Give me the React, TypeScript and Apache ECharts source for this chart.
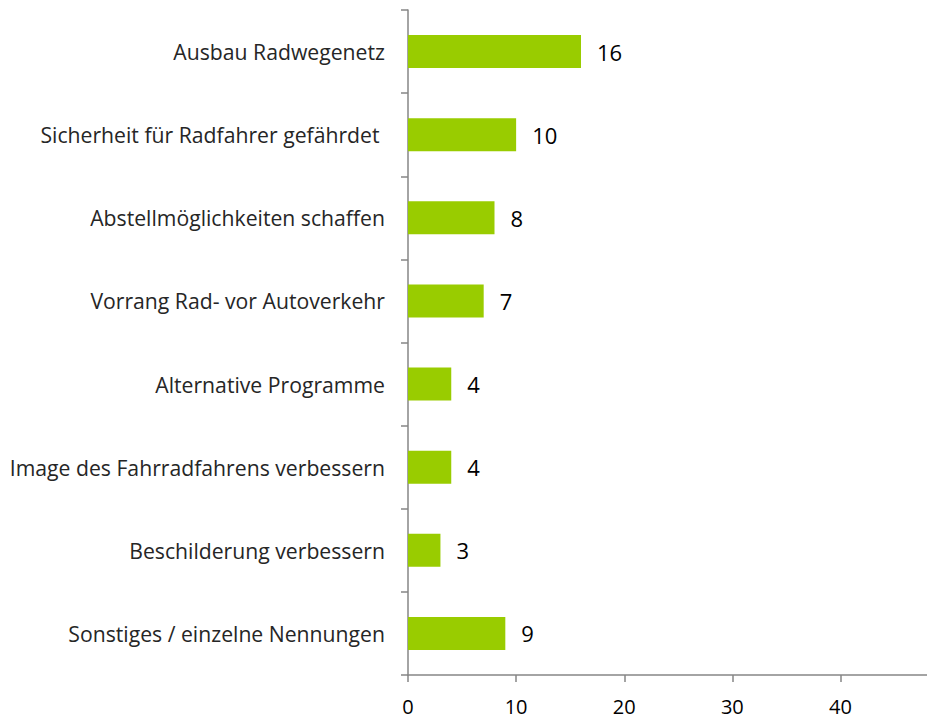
import React, { useEffect, useRef } from "react";
import * as echarts from "echarts";

const categories = [
  "Ausbau Radwegenetz",
  "Sicherheit für Radfahrer gefährdet ",
  "Abstellmöglichkeiten schaffen",
  "Vorrang Rad- vor Autoverkehr",
  "Alternative Programme",
  "Image des Fahrradfahrens verbessern",
  "Beschilderung verbessern",
  "Sonstiges / einzelne Nennungen",
];
const values = [16, 10, 8, 7, 4, 4, 3, 9];
const xMin = 0;
const xMax = 48;
const xInterval = 10;

export default function App() {
  const ref = useRef<HTMLDivElement>(null);
  useEffect(() => {
    document.body.style.margin = "0";
    const chart = echarts.init(ref.current!, null, { renderer: "svg" });
    chart.setOption({
      animation: false,
      backgroundColor: "#ffffff",
      grid: { left: 408, right: -1, top: 10, bottom: 47, containLabel: false },
      xAxis: {
        type: "value",
        min: xMin,
        max: xMax,
        interval: xInterval,
        splitLine: { show: false },
        axisLine: { show: true, lineStyle: { color: "#868686", width: 1.5 } },
        axisTick: { show: true, length: 7, lineStyle: { color: "#868686", width: 1.5 } },
        axisLabel: {
          showMaxLabel: false,
          color: "#000000",
          fontFamily: "Open Sans",
          fontSize: 20,
          lineHeight: 20,
          margin: 21,
        },
      },
      yAxis: {
        type: "category",
        data: categories,
        inverse: true,
        axisLine: { show: true, lineStyle: { color: "#868686", width: 1.5 } },
        axisTick: { show: true, length: 7, lineStyle: { color: "#868686", width: 1.5 } },
        axisLabel: {
          color: "#262626",
          fontFamily: "Open Sans",
          fontSize: 21.2,
          margin: 23,
        },
      },
      series: [
        {
          type: "bar",
          data: values,
          barWidth: 33,
          itemStyle: { color: "#99CC00" },
          label: {
            show: true,
            position: "right",
            distance: 16,
            color: "#000000",
            fontFamily: "Open Sans",
            fontSize: 22,
          },
        },
      ],
    });
    return () => chart.dispose();
  }, []);
  return <div ref={ref} style={{ width: 927, height: 722 }} />;
}
